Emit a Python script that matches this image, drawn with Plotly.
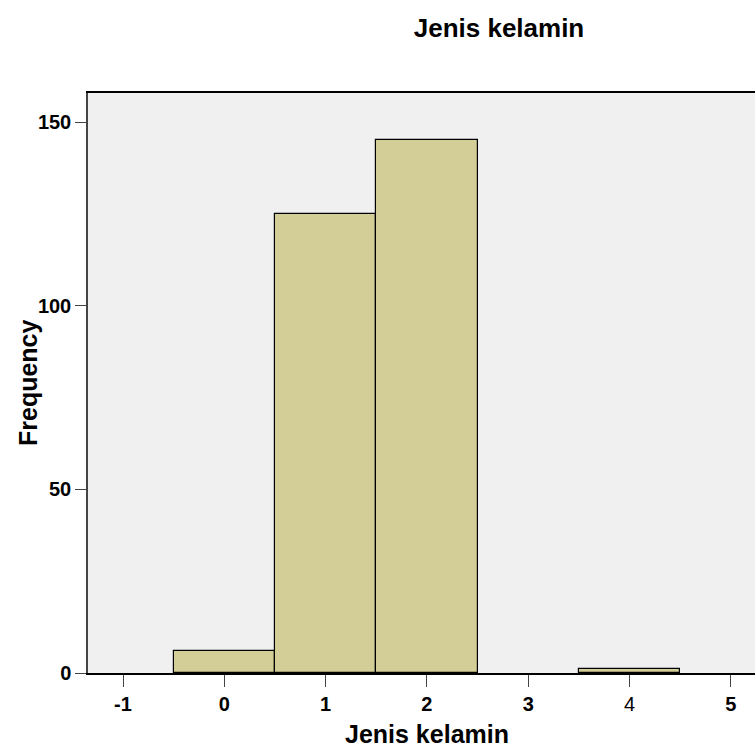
import plotly.graph_objects as go

categories = [0, 1, 2, 4]
frequency = [6, 125, 145, 1]
x_tickvals = [-1, 0, 1, 2, 3, 4, 5]
x_ticktext = ["-1", "0", "1", "2", "3", "4", "5"]
y_tickvals = [0, 50, 100, 150]
y_ticktext = ["0", "50", "100", "150"]

FONT = "Liberation Sans, Arial, sans-serif"

fig = go.Figure()
fig.add_trace(go.Bar(
    x=categories, y=frequency, width=1,
    marker=dict(color="#d3ce98", line=dict(color="#000000", width=1.2)),
    hoverinfo="x+y",
))

fig.update_layout(
    width=755, height=749,
    margin=dict(l=88, r=0, t=93, b=76),
    paper_bgcolor="white",
    plot_bgcolor="#f0f0f0",
    showlegend=False,
    font=dict(family=FONT, color="#000000"),
    title=dict(text="<b>Jenis kelamin</b>", x=499/755, y=1-28/749,
               xanchor="center", yanchor="middle",
               font=dict(family=FONT, size=26, color="#000000")),
    bargap=0,
)

fig.update_xaxes(
    range=[-1.3455, 5.239],
    tickvals=x_tickvals,
    ticktext=["<b>%s</b>" % t if t != "4" else t for t in x_ticktext],
    ticks="outside", ticklen=12, tickcolor="#444444", tickwidth=1,
    tickfont=dict(family=FONT, size=20, color="#000000"),
    showgrid=False, zeroline=False,
    showline=True, linecolor="#000000", linewidth=1.5, mirror=True,
)
fig.update_yaxes(
    range=[0, 157.9],
    tickvals=y_tickvals,
    ticktext=["<b>%s</b>" % t for t in y_ticktext],
    ticks="outside", ticklen=11, tickcolor="#444444", tickwidth=1,
    tickfont=dict(family=FONT, size=20, color="#000000"),
    showgrid=False, zeroline=False,
    showline=True, linecolor="#444444", linewidth=1.5,
)

fig.add_annotation(text="<b>Jenis kelamin</b>", xref="paper", yref="paper",
                   x=(427-88)/667, y=(673-734)/580, xanchor="center", yanchor="middle",
                   showarrow=False, font=dict(family=FONT, size=25, color="#000000"))
fig.add_annotation(text="<b>Frequency</b>", xref="paper", yref="paper",
                   x=(28-88)/667, y=(673-382)/580, xanchor="center", yanchor="middle",
                   textangle=-90, showarrow=False,
                   font=dict(family=FONT, size=25, color="#000000"))

fig.write_html("out.html",
               config={"displayModeBar": False},
               post_script="document.body.style.margin='0';document.body.style.overflow='hidden';")
